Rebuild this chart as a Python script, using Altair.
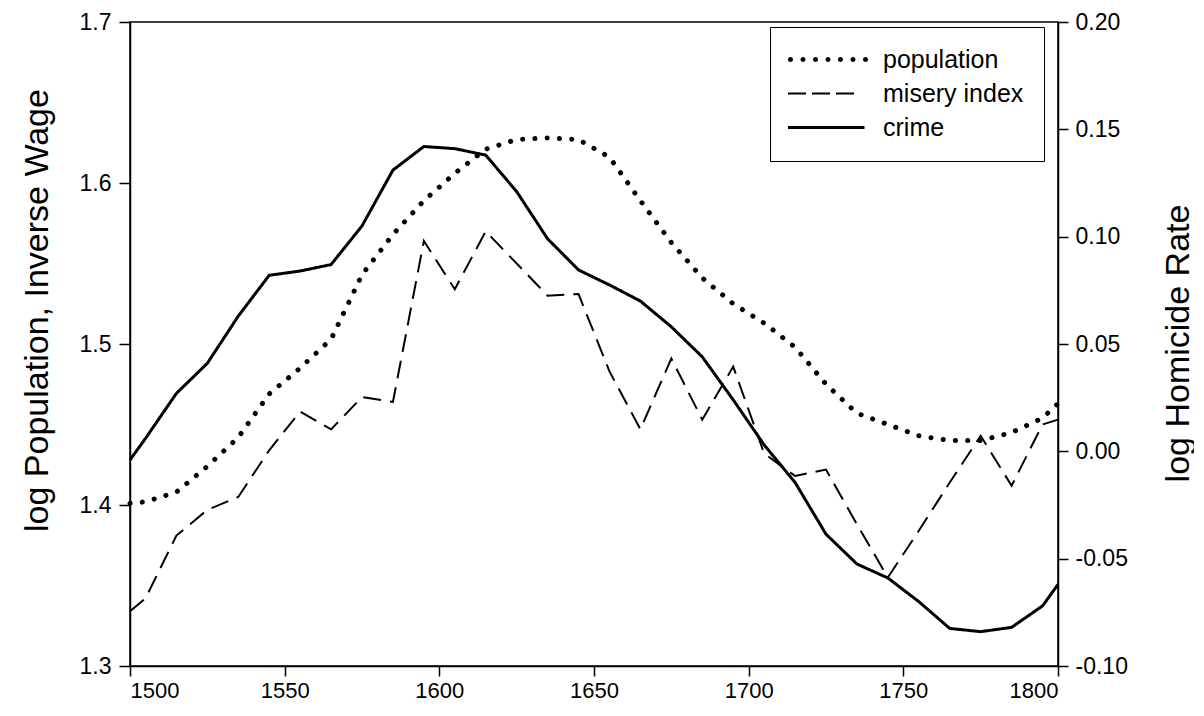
import altair as alt
import pandas as pd

years = [1500, 1505, 1515, 1525, 1535, 1545, 1555, 1565, 1575, 1585, 1595, 1605,
         1615, 1625, 1635, 1645, 1655, 1665, 1675, 1685, 1695, 1705, 1715, 1725,
         1735, 1745, 1755, 1765, 1775, 1785, 1795, 1800]
population = [1.401, 1.402, 1.408, 1.424, 1.442, 1.469, 1.485, 1.503, 1.543, 1.568,
              1.589, 1.606, 1.621, 1.627, 1.628, 1.627, 1.616, 1.589, 1.563, 1.541,
              1.525, 1.513, 1.498, 1.475, 1.457, 1.450, 1.443, 1.440, 1.440, 1.445,
              1.454, 1.463]
misery = [1.334, 1.342, 1.381, 1.397, 1.405, 1.434, 1.458, 1.447, 1.467, 1.464,
          1.564, 1.534, 1.570, 1.550, 1.530, 1.531, 1.483, 1.447, 1.491, 1.453,
          1.486, 1.432, 1.418, 1.422, 1.388, 1.355, 1.384, 1.414, 1.443, 1.412,
          1.450, 1.453]
crime = [-0.004, 0.006, 0.027, 0.041, 0.063, 0.082, 0.084, 0.087, 0.105, 0.131,
         0.142, 0.141, 0.138, 0.121, 0.099, 0.0845, 0.0775, 0.070, 0.058, 0.044,
         0.024, 0.003, -0.0145, -0.0386, -0.0525, -0.059, -0.070, -0.0825, -0.084,
         -0.082, -0.072, -0.062]
series_names = ["population", "misery index", "crime"]
x_ticks = [1500, 1550, 1600, 1650, 1700, 1750, 1800]
left_ticks = [1.3, 1.4, 1.5, 1.6, 1.7]
right_ticks = [-0.10, -0.05, 0.0, 0.05, 0.10, 0.15, 0.20]

rows = []
for name, vals in zip(series_names, [population, misery, crime]):
    for yr, v in zip(years, vals):
        rows.append({"year": yr, "series": name, "value": v})
data = pd.DataFrame(rows)

FONT = "Liberation Sans"


# legend key glyphs (unit coordinates of a symbol, scaled by the legend symbol size)
def dot(cx, r=0.5):
    return f"M{cx - r},0A{r},{r} 0 1,0 {cx + r},0A{r},{r} 0 1,0 {cx - r},0Z"


def bar(x0, x1, h):
    return f"M{x0},{-h}L{x1},{-h}L{x1},{h}L{x0},{h}Z"


key_population = "".join(dot(c) for c in [-7.0, -4.5, -2.0, 0.5, 3.0, 5.5, 8.0])
key_misery = bar(-7.5, -3.9, 0.2) + bar(-2.7, 0.9, 0.2) + bar(2.1, 5.7, 0.2)
key_crime = bar(-7.5, 7.8, 0.3)

x_enc = alt.X(
    "year:Q",
    scale=alt.Scale(domain=[1500, 1800], nice=False, zero=False),
    axis=alt.Axis(values=x_ticks, format="d", title=None, tickSize=10, labelPadding=4,
                  labelFontSize=22),
)

# line styles (listed in reverse order so this scale stays separate from the legend's)
dash_enc = alt.StrokeDash(
    "series:N",
    scale=alt.Scale(domain=["crime", "misery index", "population"],
                    range=[[1, 0], [18, 9], [0.1, 12.2]]),
    legend=None,
)

shape_enc = alt.Shape(
    "series:N",
    scale=alt.Scale(domain=series_names, range=[key_population, key_misery, key_crime]),
    legend=alt.Legend(
        title=None, orient="none", legendX=640, legendY=5, padding=20,
        strokeColor="black", fillColor="white",
        symbolSize=100, symbolFillColor="black", symbolStrokeColor="black",
        symbolStrokeWidth=0, symbolOpacity=1, symbolOffset=23, labelOffset=45,
        rowPadding=8, labelFont=FONT, labelFontSize=25, labelColor="black",
    ),
)

y_left = alt.Y(
    "value:Q",
    scale=alt.Scale(domain=[1.3, 1.7], nice=False, zero=False),
    axis=alt.Axis(orient="left", values=left_ticks, format=".1f",
                  title="log Population, Inverse Wage", tickSize=11, labelPadding=8,
                  titleX=-93, titleY=288, titleAngle=270, titleBaseline="middle",
                  titleAlign="center"),
)
y_right = alt.Y(
    "value:Q",
    scale=alt.Scale(domain=[-0.10, 0.20], nice=False, zero=False),
    axis=alt.Axis(orient="right", values=right_ticks,
                  labelExpr="replace(format(datum.value, '.2f'), '\u2212', '-')",
                  title="log Homicide Rate", tickSize=10, labelPadding=7,
                  titleX=120, titleY=321, titleAngle=270, titleBaseline="middle",
                  titleAlign="center"),
)

base = alt.Chart(data)
pop = base.transform_filter(alt.datum.series == "population").mark_line(
    color="black", strokeWidth=5, strokeCap="round"
).encode(x=x_enc, y=y_left, strokeDash=dash_enc)
mis = base.transform_filter(alt.datum.series == "misery index").mark_line(
    color="black", strokeWidth=2
).encode(x=x_enc, y=y_left, strokeDash=dash_enc)
key = base.transform_filter(alt.datum.series == "population").mark_point(
    filled=True, color="black", size=100, opacity=0
).encode(x=x_enc, y=y_left, shape=shape_enc)
cri = base.transform_filter(alt.datum.series == "crime").mark_line(
    color="black", strokeWidth=3
).encode(x=x_enc, y=y_right, strokeDash=dash_enc)

chart = (
    alt.layer(alt.layer(pop, mis, key), cri)
    .resolve_scale(y="independent")
    .properties(
        width=928, height=644,
        autosize=alt.AutoSizeParams(type="none"),
        padding={"left": 122, "top": 14, "right": 136, "bottom": 40},
        background="white",
    )
    .configure_view(stroke="black", strokeWidth=1.5)
    .configure_axis(
        domainColor="black", domainWidth=1.5, tickColor="black", tickWidth=1.5,
        labelColor="black", labelFont=FONT, labelFontSize=23,
        titleFont=FONT, titleFontSize=34, titleFontWeight="normal", titleColor="black",
        grid=False,
    )
)

chart.save("out.html", embed_options={"renderer": "svg", "actions": False})
